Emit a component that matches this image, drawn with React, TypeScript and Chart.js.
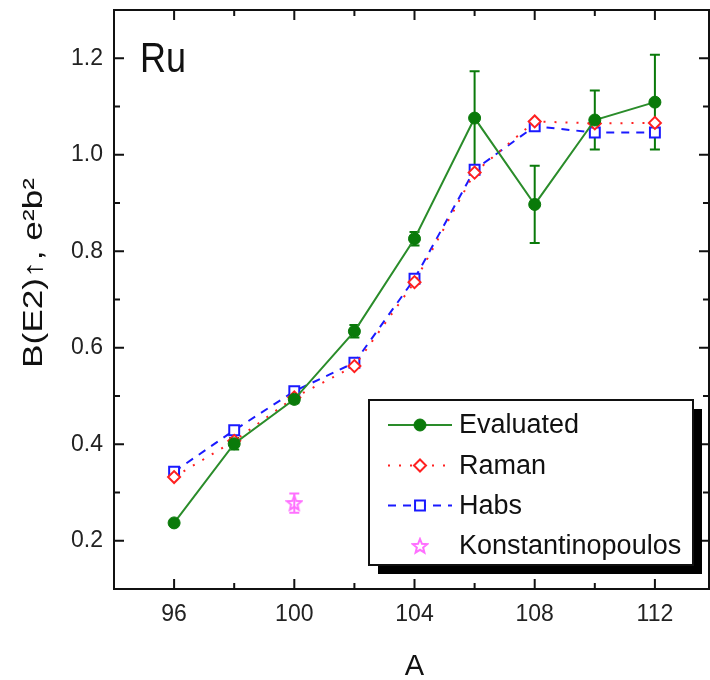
import React, { useEffect, useRef } from "react";
import { Chart, registerables } from "chart.js";
import { drawPoint } from "chart.js/helpers";

Chart.register(...registerables);

// ---- data ----
const massNumbers = [96, 98, 100, 102, 104, 106, 108, 110, 112];
const evaluated = [0.237, 0.401, 0.493, 0.634, 0.826, 1.076, 0.897, 1.072, 1.109];
const evaluatedErr = [0.005, 0.012, 0.008, 0.013, 0.014, 0.097, 0.080, 0.061, 0.098];
const raman = [0.332, 0.407, 0.497, 0.562, 0.736, 0.963, 1.069, 1.065, 1.066];
const habs = [0.343, 0.429, 0.510, 0.569, 0.743, 0.969, 1.059, 1.046, 1.046];
const konstA = [100];
const konstVal = [0.278];
const konstErr = [0.02];

const xTickValues = [96, 100, 104, 108, 112];
const xMinorValues = [98, 102, 106, 110];
const yTickValues = [0.2, 0.4, 0.6, 0.8, 1.0, 1.2];
const yMinorValues = [0.3, 0.5, 0.7, 0.9, 1.1];

const FONT = "'Liberation Sans', Arial, Helvetica, sans-serif";
const GREEN_LINE = "#2a8c2a";
const GREEN = "#0a7a0a";
const RED = "#ff2020";
const BLUE = "#1a1aff";
const MAGENTA = "#ff70ff";

function makeStar(color: string) {
  const c = document.createElement("canvas");
  c.width = 18;
  c.height = 18;
  const g = c.getContext("2d")!;
  g.strokeStyle = color;
  g.lineWidth = 2;
  g.beginPath();
  const cx = 9, cy = 9.5, R = 7.5, r = 3.3;
  for (let i = 0; i < 10; i++) {
    const ang = -Math.PI / 2 + (i * Math.PI) / 5;
    const rad = i % 2 === 0 ? R : r;
    const px = cx + rad * Math.cos(ang);
    const py = cy + rad * Math.sin(ang);
    if (i === 0) g.moveTo(px, py);
    else g.lineTo(px, py);
  }
  g.closePath();
  g.stroke();
  return c;
}

const errorBarPlugin = {
  id: "errorBars",
  beforeDatasetsDraw(chart: any) {
    const ctx = chart.ctx;
    const xs = chart.scales.x;
    const ys = chart.scales.y;
    chart.data.datasets.forEach((ds: any) => {
      if (!ds.errors) return;
      ctx.save();
      ctx.strokeStyle = ds.errorColor;
      ctx.lineWidth = 2;
      ds.data.forEach((p: any, j: number) => {
        const e = ds.errors[j];
        const px = xs.getPixelForValue(p.x);
        const t = ys.getPixelForValue(p.y + e);
        const b = ys.getPixelForValue(p.y - e);
        ctx.beginPath();
        ctx.moveTo(px, t);
        ctx.lineTo(px, b);
        ctx.moveTo(px - 5, t);
        ctx.lineTo(px + 5, t);
        ctx.moveTo(px - 5, b);
        ctx.lineTo(px + 5, b);
        ctx.stroke();
      });
      ctx.restore();
    });
  },
};

const framePlugin = {
  id: "frame",
  afterDraw(chart: any) {
    const ctx = chart.ctx;
    const { left, right, top, bottom } = chart.chartArea;
    const xs = chart.scales.x;
    const ys = chart.scales.y;
    ctx.save();
    ctx.strokeStyle = "#111";
    ctx.lineWidth = 2;
    ctx.strokeRect(left, top, right - left, bottom - top);
    ctx.lineWidth = 2;
    ctx.beginPath();
    const tick = (vals: number[], len: number) => {
      vals.forEach((v) => {
        const px = xs.getPixelForValue(v);
        ctx.moveTo(px, bottom);
        ctx.lineTo(px, bottom - len);
        ctx.moveTo(px, top);
        ctx.lineTo(px, top + len);
      });
    };
    const ytick = (vals: number[], len: number) => {
      vals.forEach((v) => {
        const py = ys.getPixelForValue(v);
        ctx.moveTo(left, py);
        ctx.lineTo(left + len, py);
        ctx.moveTo(right, py);
        ctx.lineTo(right - len, py);
      });
    };
    tick(xTickValues, 10);
    tick(xMinorValues, 6);
    ytick(yTickValues, 10);
    ytick(yMinorValues, 6);
    ctx.stroke();

    // "Ru" label
    ctx.fillStyle = "#111";
    ctx.font = `36px ${FONT}`;
    ctx.textAlign = "left";
    ctx.textBaseline = "alphabetic";
    ctx.save();
    ctx.translate(left + 26, top + 62);
    ctx.scale(1, 1.2);
    ctx.fillText("Ru", 0, 0);
    ctx.restore();

    // y title
    ctx.save();
    ctx.translate(35, 273);
    ctx.rotate(-Math.PI / 2);
    ctx.font = `27px ${FONT}`;
    const yTitle = "B(E2)↑, e²b²";
    const w = ctx.measureText(yTitle).width;
    ctx.scale(190 / w, 1);
    ctx.textAlign = "center";
    ctx.textBaseline = "middle";
    ctx.fillText(yTitle, 0, 0);
    ctx.restore();

    // x title
    ctx.font = `29px ${FONT}`;
    ctx.textAlign = "center";
    ctx.textBaseline = "middle";
    ctx.fillText("A", (left + right) / 2 + 3, 667);
    ctx.restore();
  },
};

const legendPlugin = {
  id: "customLegend",
  afterDraw(chart: any) {
    const ctx = chart.ctx;
    const bx = 369, by = 400, bw = 324, bh = 165;
    ctx.save();
    ctx.fillStyle = "#000";
    ctx.fillRect(bx + 9, by + 9, bw, bh);
    ctx.fillStyle = "#fff";
    ctx.fillRect(bx, by, bw, bh);
    ctx.strokeStyle = "#111";
    ctx.lineWidth = 2;
    ctx.strokeRect(bx, by, bw, bh);
    const rows = [425, 465.5, 505.5, 546];
    const order = [0, 1, 2, 3];
    order.forEach((di, k) => {
      const ds = chart.data.datasets[di];
      const y = rows[k];
      if (ds.showLine !== false) {
        ctx.save();
        ctx.strokeStyle = ds.borderColor;
        ctx.lineWidth = ds.borderWidth;
        ctx.setLineDash(ds.borderDash || []);
        ctx.beginPath();
        ctx.moveTo(388, y);
        ctx.lineTo(452, y);
        ctx.stroke();
        ctx.restore();
      }
      const mx = 420;
      if (typeof ds.pointStyle === "string") {
        ctx.save();
        ctx.fillStyle = ds.pointBackgroundColor;
        ctx.strokeStyle = ds.pointBorderColor;
        ctx.lineWidth = ds.pointBorderWidth;
        drawPoint(
          ctx,
          { pointStyle: ds.pointStyle, radius: ds.pointRadius, rotation: 0, borderWidth: ds.pointBorderWidth },
          mx,
          y
        );
        ctx.restore();
      } else {
        const img = ds.pointStyle;
        ctx.drawImage(img, mx - img.width / 2, y - img.height / 2);
      }
      ctx.fillStyle = "#111";
      ctx.font = `27px ${FONT}`;
      ctx.textAlign = "left";
      ctx.textBaseline = "middle";
      ctx.fillText(ds.label, 459, y + 1);
    });
    ctx.restore();
  },
};

const noPad = (s: any) => {
  s.paddingTop = 0;
  s.paddingBottom = 0;
  s.paddingLeft = 0;
  s.paddingRight = 0;
};

export default function App() {
  const canvasRef = useRef<HTMLCanvasElement | null>(null);

  useEffect(() => {
    if (!canvasRef.current) return;
    const star = makeStar(MAGENTA);
    const chart = new Chart(canvasRef.current, {
      type: "line",
      data: {
        datasets: [
          {
            label: "Evaluated",
            data: massNumbers.map((a, i) => ({ x: a, y: evaluated[i] })),
            errors: evaluatedErr,
            errorColor: GREEN,
            borderColor: GREEN_LINE,
            borderWidth: 2,
            pointStyle: "circle",
            pointRadius: 6,
            pointBackgroundColor: GREEN,
            pointBorderColor: GREEN,
            pointBorderWidth: 1,
            tension: 0,
          } as any,
          {
            label: "Raman",
            data: massNumbers.map((a, i) => ({ x: a, y: raman[i] })),
            borderColor: RED,
            borderWidth: 2,
            borderDash: [2, 9],
            pointStyle: "rectRot",
            pointRadius: 6,
            pointBackgroundColor: "#fff",
            pointBorderColor: RED,
            pointBorderWidth: 2,
            tension: 0,
          },
          {
            label: "Habs",
            data: massNumbers.map((a, i) => ({ x: a, y: habs[i] })),
            borderColor: BLUE,
            borderWidth: 2,
            borderDash: [8, 7],
            pointStyle: "rect",
            pointRadius: 7,
            pointBackgroundColor: "#fff",
            pointBorderColor: BLUE,
            pointBorderWidth: 2,
            tension: 0,
          },
          {
            label: "Konstantinopoulos",
            data: konstA.map((a, i) => ({ x: a, y: konstVal[i] })),
            errors: konstErr,
            errorColor: MAGENTA,
            showLine: false,
            borderColor: MAGENTA,
            borderWidth: 2,
            pointStyle: star,
            pointRadius: 8,
            pointBackgroundColor: MAGENTA,
            pointBorderColor: MAGENTA,
          } as any,
        ],
      },
      options: {
        responsive: false,
        animation: false,
        events: [],
        layout: { autoPadding: false, padding: { top: 10, right: 1, left: 0, bottom: 0 } },
        plugins: {
          legend: { display: false },
          tooltip: { enabled: false },
        },
        scales: {
          x: {
            type: "linear",
            min: 94,
            max: 113.8,
            grid: { display: false, drawTicks: false },
            border: { display: false },
            ticks: {
              font: { family: FONT, size: 23 },
              color: "#222",
              padding: 12,
            },
            afterBuildTicks: (s: any) => {
              s.ticks = xTickValues.map((v) => ({ value: v }));
            },
            afterFit: (s: any) => {
              s.height = 91;
              noPad(s);
            },
          },
          y: {
            type: "linear",
            min: 0.1,
            max: 1.3,
            grid: { display: false, drawTicks: false },
            border: { display: false },
            ticks: {
              font: { family: FONT, size: 23 },
              color: "#222",
              padding: 11,
              callback: (v: any) => Number(v).toFixed(1),
            },
            afterBuildTicks: (s: any) => {
              s.ticks = yTickValues.map((v) => ({ value: v }));
            },
            afterFit: (s: any) => {
              s.width = 114;
              noPad(s);
            },
          },
        },
      },
      plugins: [errorBarPlugin, framePlugin, legendPlugin],
    } as any);
    return () => chart.destroy();
  }, []);

  return (
    <div style={{ position: "absolute", left: 0, top: 0, width: 710, height: 680, background: "#fff" }}>
      <canvas ref={canvasRef} width={710} height={680} />
    </div>
  );
}
